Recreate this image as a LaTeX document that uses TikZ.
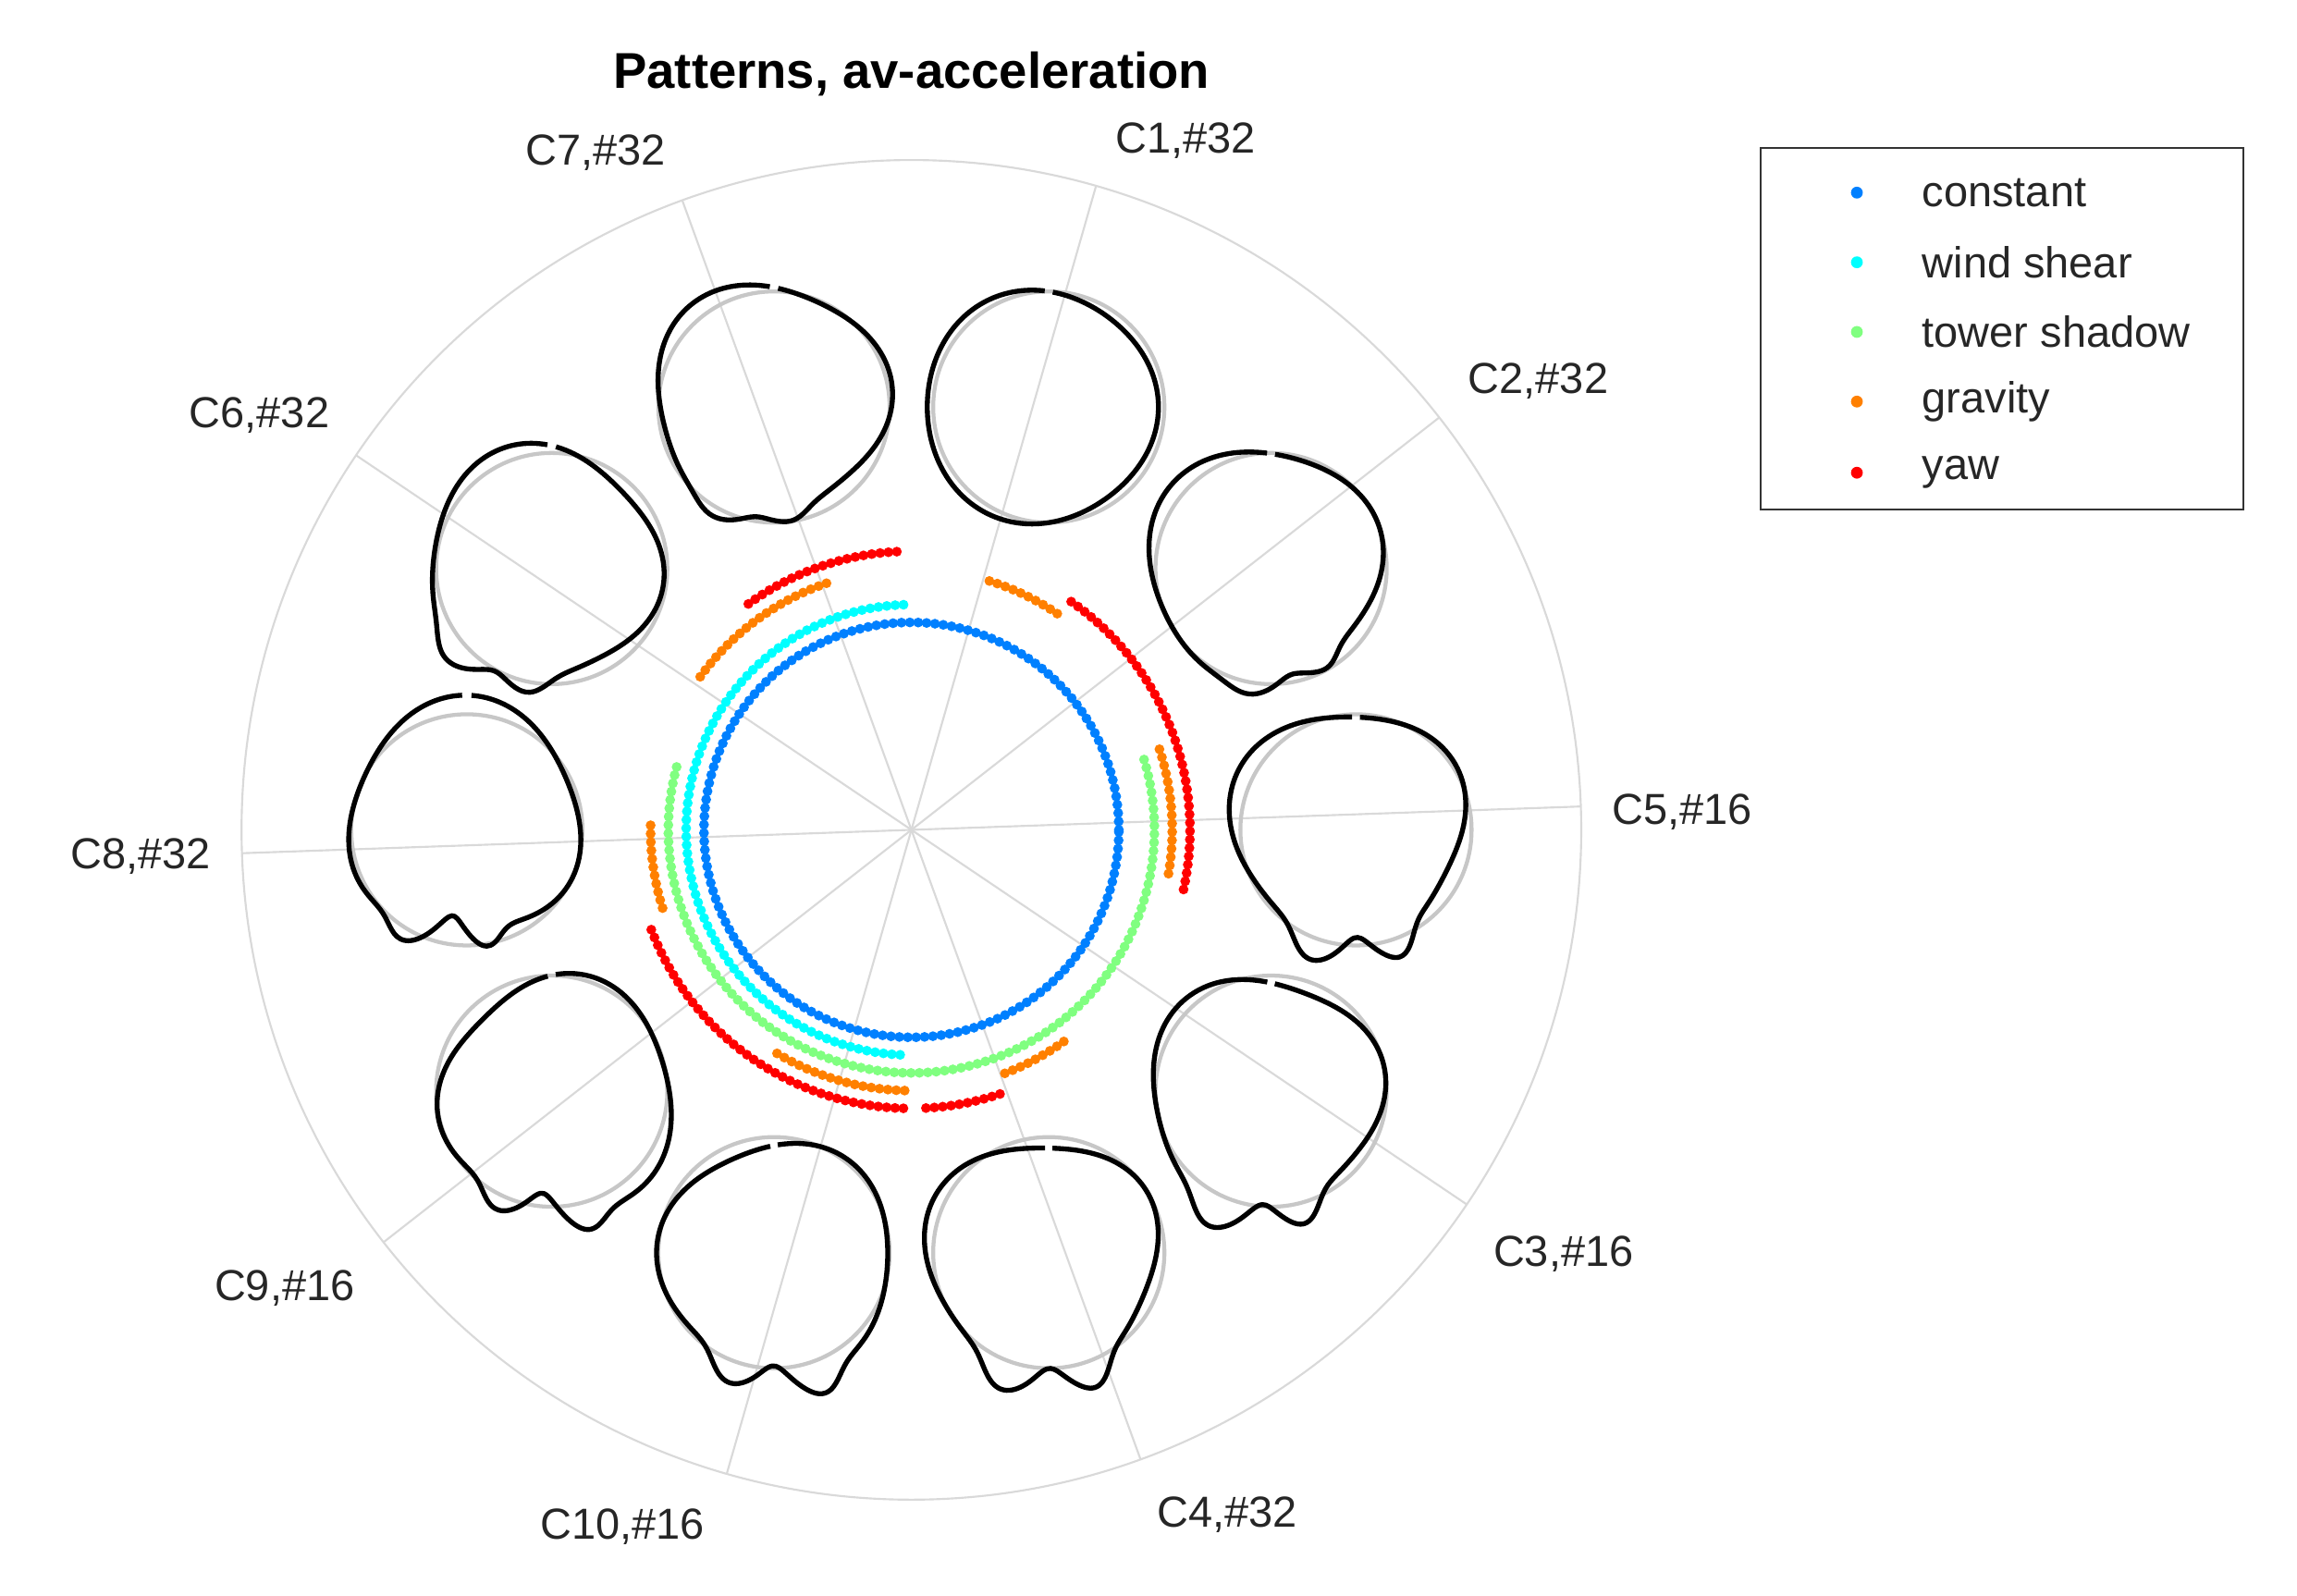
\documentclass[tikz,border=0pt]{standalone}
\usepackage{fontspec}
\setmainfont{Liberation Sans}
\definecolor{cconst}{RGB}{0,128,255}
\definecolor{cwind}{RGB}{0,255,255}
\definecolor{ctower}{RGB}{128,255,128}
\definecolor{cgrav}{RGB}{255,128,0}
\definecolor{cyaw}{RGB}{255,0,0}
\tikzset{
  grid/.style={draw=black!15,line width=0.04cm},
  ring/.style={line width=0.2cm,line cap=round,dash pattern=on 0pt off 0.17cm},
  ref/.style={draw=black!22,line width=0.08cm},
  blob/.style={draw=black,line width=0.1cm},
  lab/.style={font=\fontsize{25}{30}\selectfont,text=black!85},
}
% #1 position angle, #2 shift amp, #3 shift dir, #4 3rd harm, #5 phase, #6 bump amp, #7 bump angle
\newcommand{\myblob}[7]{%
 \begin{scope}[shift={(#1:300)}]
  \draw[ref] (0,0) circle (78);
  \draw[blob] plot[domain=92:448,samples=200,smooth] (\x:{78+#2*cos(\x-#3)+#4*cos(3*\x-#5)+#6*exp(-((\x-#7)/12)^2)+#6*exp(-((\x-#7-40)/10)^2)-0.6*#6*exp(-((\x-#7-20)/8)^2)});
 \end{scope}}
\begin{document}
\begin{tikzpicture}[x=0.03cm,y=-0.03cm]
\useasboundingbox (0,0) rectangle (1550,1077);
\node[font=\bfseries\fontsize{29}{34}\selectfont] (title) at (615,50) {Patterns, av-acceleration};
\begin{scope}[shift={(615,560)},yscale=-1]
  \draw[grid] (0,0) circle (452);
  \foreach \a in {2,38,74,110,146,182,218,254,290,326} \draw[grid] (0,0) -- (\a:452);
  \myblob{72}{6}{180}{2}{0}{0}{270}
  \myblob{36}{6}{150}{4}{60}{6}{260}
  \myblob{0}{6}{150}{5}{100}{14}{250}
  \myblob{-36}{5}{200}{5}{40}{14}{245}
  \myblob{-72}{5}{210}{5}{100}{14}{250}
  \myblob{-108}{5}{300}{4}{160}{14}{250}
  \myblob{-144}{6}{330}{5}{220}{14}{245}
  \myblob{180}{8}{100}{5}{270}{14}{240}
  \myblob{144}{7}{160}{5}{330}{8}{220}
  \myblob{108}{6}{120}{5}{30}{5}{240}
  \draw[ring,cconst] (0:140) arc (0:360:140);
  \draw[ring,cwind] (92:152) arc (92:268:152);
  \draw[ring,ctower] (165:164) arc (165:378:164);
  \draw[ring,cgrav] (109:176) arc (109:145:176);
  \draw[ring,cgrav] (56:176) arc (56:73:176);
  \draw[ring,cgrav] (18:176) arc (18:-10:176);
  \draw[ring,cgrav] (179:176) arc (179:198:176);
  \draw[ring,cgrav] (239:176) arc (239:270:176);
  \draw[ring,cgrav] (291:176) arc (291:307:176);
  \draw[ring,cyaw] (93:188) arc (93:126:188);
  \draw[ring,cyaw] (55:188) arc (55:-14:188);
  \draw[ring,cyaw] (201:188) arc (201:270:188);
  \draw[ring,cyaw] (273:188) arc (273:290:188);
\end{scope}
\node[lab] (l1) at (800,95) {C1,\#32};
\node[lab] (l2) at (1038,257) {C2,\#32};
\node[lab] (l5) at (1135,548) {C5,\#16};
\node[lab] (l3) at (1055,846) {C3,\#16};
\node[lab] (l4) at (828,1022) {C4,\#32};
\node[lab] (l10) at (420,1030) {C10,\#16};
\node[lab] (l9) at (192,869) {C9,\#16};
\node[lab] (l8) at (95,578) {C8,\#32};
\node[lab] (l6) at (175,280) {C6,\#32};
\node[lab] (l7) at (402,103) {C7,\#32};
\draw[draw=black!80,line width=0.04cm,fill=white] (1188,100) rectangle (1514,344);
\foreach \y/\c/\t in {130/cconst/constant,177/cwind/wind shear,224/ctower/tower shadow,271/cgrav/gravity,319/cyaw/yaw}{
  \fill[\c] (1253,\y) circle (4);
  \node[lab,anchor=west] at (1293,\y) {\t};
}
\end{tikzpicture}
\end{document}
